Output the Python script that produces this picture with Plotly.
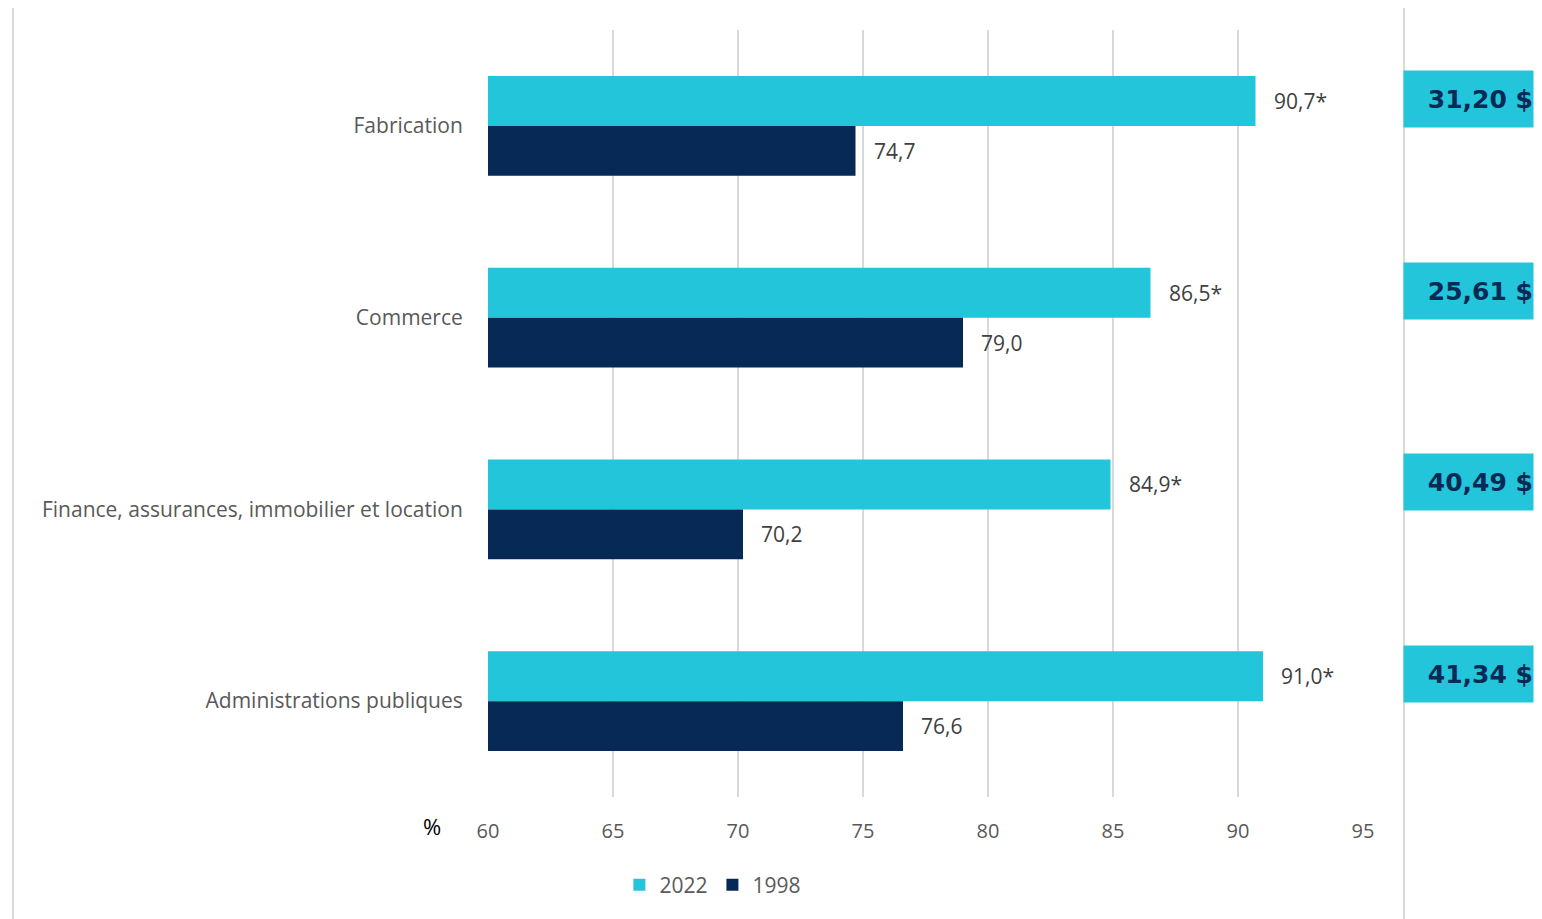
import plotly.graph_objects as go

categories = ["Fabrication", "Commerce", "Finance, assurances, immobilier et location", "Administrations publiques"]
values_2022 = [90.7, 86.5, 84.9, 91.0]
values_1998 = [74.7, 79.0, 70.2, 76.6]
signif_2022 = [True, True, True, True]
wages = [31.20, 25.61, 40.49, 41.34]
x_ticks = [60, 65, 70, 75, 80, 85, 90, 95]

TEAL = "#22C5DA"
NAVY = "#062A55"
GRID = "#D9D9D9"
FONT = "Open Sans"


def fr(v, d=1):
    return f"{v:.{d}f}".replace(".", ",")


fig = go.Figure()
fig.add_trace(go.Bar(name="2022", y=categories, x=values_2022, orientation="h",
                     marker=dict(color=TEAL, line=dict(width=0))))
fig.add_trace(go.Bar(name="1998", y=categories, x=values_1998, orientation="h",
                     marker=dict(color=NAVY, line=dict(width=0))))

annotations = []
for cat, v, s in zip(categories, values_2022, signif_2022):
    annotations.append(dict(x=v, y=cat, xref="x", yref="y", text=fr(v) + ("*" if s else ""),
                            showarrow=False, xanchor="left", xshift=16, yshift=25,
                            font=dict(family=FONT, size=21, color="#404040")))
for cat, v in zip(categories, values_1998):
    annotations.append(dict(x=v, y=cat, xref="x", yref="y", text=fr(v),
                            showarrow=False, xanchor="left", xshift=16, yshift=-25,
                            font=dict(family=FONT, size=21, color="#404040")))
for cat, w in zip(categories, wages):
    annotations.append(dict(x=1.0457, y=cat, xref="paper", yref="y", text="<b>" + fr(w, 2) + " $</b>",
                            showarrow=False, xanchor="left", yanchor="middle", yshift=27,
                            width=129, height=56, align="right", bgcolor=TEAL, borderpad=0,
                            font=dict(family="DejaVu Sans", size=25, color=NAVY)))
annotations.append(dict(x=-0.064, y=-0.038, xref="paper", yref="paper", text="%", showarrow=False,
                        xanchor="center", yanchor="middle",
                        font=dict(family=FONT, size=22, color="#000000")))

shapes = [
    dict(type="line", xref="paper", yref="paper", x0=-0.5429, x1=-0.5429, y0=-0.17, y1=1.05,
         line=dict(color=GRID, width=2)),
    dict(type="line", xref="paper", yref="paper", x0=1.0469, x1=1.0469, y0=-0.17, y1=1.05,
         line=dict(color=GRID, width=2)),
]

fig.update_layout(
    width=1526, height=911,
    margin=dict(l=480, r=171, t=22, b=122),
    paper_bgcolor="white", plot_bgcolor="white",
    barmode="group", bargap=0.48, bargroupgap=0,
    font=dict(family=FONT, size=20, color="#595959"),
    xaxis=dict(range=[60, 95], tickvals=x_ticks, ticktext=[str(t) for t in x_ticks],
               showgrid=True, gridcolor=GRID, gridwidth=2, zeroline=False,
               ticks="outside", ticklen=16, tickcolor="rgba(0,0,0,0)",
               tickfont=dict(family=FONT, size=20, color="#595959"), fixedrange=True),
    yaxis=dict(autorange="reversed", showgrid=False, zeroline=False,
               ticks="outside", ticklen=20, tickcolor="rgba(0,0,0,0)",
               tickfont=dict(family=FONT, size=21, color="#595959")),
    legend=dict(orientation="h", x=0.257, y=-0.115, xanchor="center", yanchor="middle",
                font=dict(family=FONT, size=21, color="#595959"), itemwidth=30,
                traceorder="normal"),
    annotations=annotations,
    shapes=shapes,
)

fig.write_html("out.html")
